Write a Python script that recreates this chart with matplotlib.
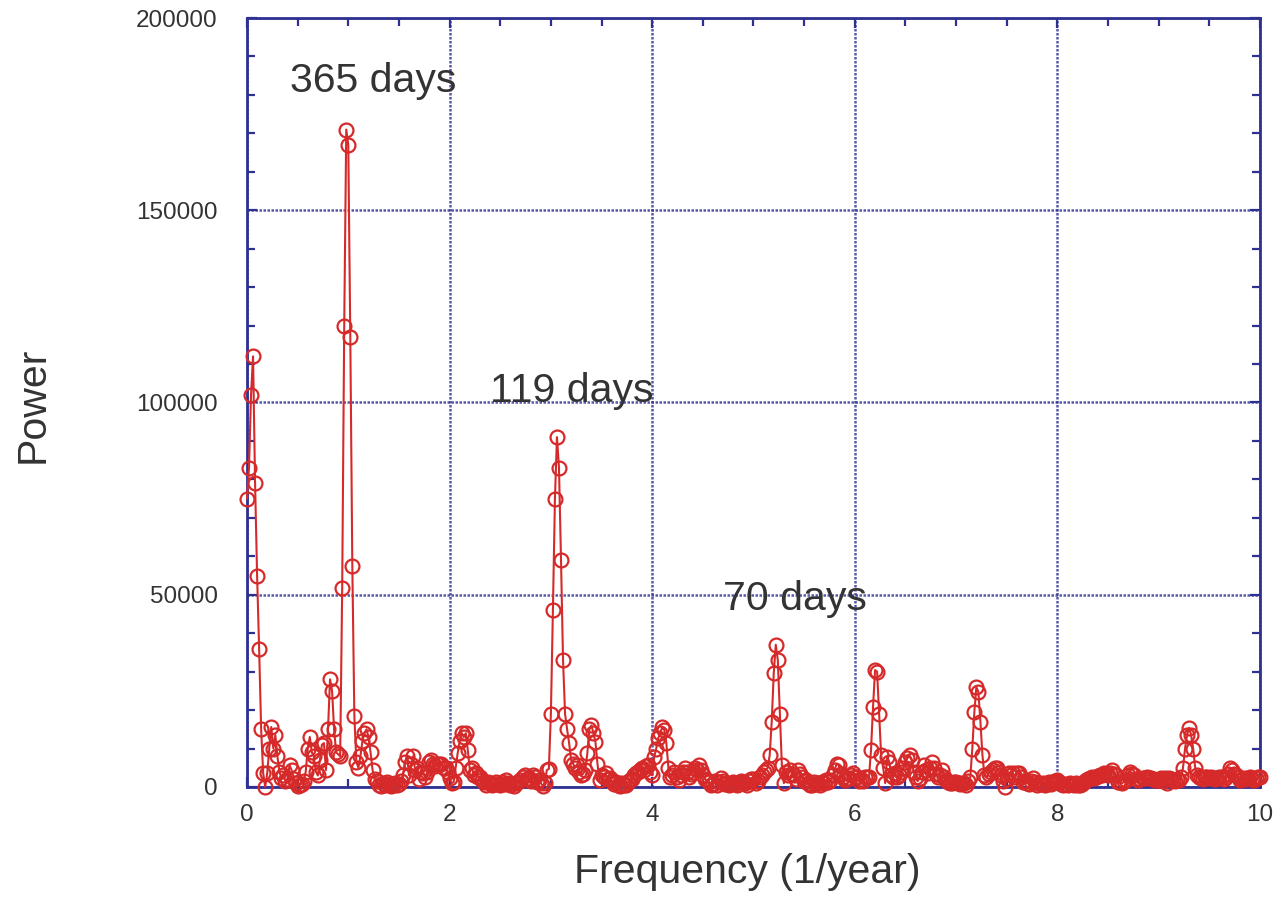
import numpy as np
import matplotlib
matplotlib.use("Agg")
import matplotlib.pyplot as plt
from matplotlib.ticker import MultipleLocator, FixedLocator, FixedFormatter

plt.rcParams["font.family"] = ["Liberation Sans", "DejaVu Sans"]

# power values (in thousands), one list per 1/year band, grid step 0.02
power_0 = [75, 83, 102, 112, 79, 55, 36, 15, 3.6, 0,
           3.6, 10, 15.6, 10, 13.5, 8, 4, 2.3, 3, 1.5,
           2, 5.7, 4.4, 2, 1, 0.3, 0.5, 0.8, 1.5, 4,
           10, 13, 9, 8, 4, 3, 7, 11, 11.4, 4.4,
           15, 28, 25, 15, 9, 8.5, 8, 51.7, 120, 171]
power_1 = [167, 117, 57.5, 18.5, 6.5, 5, 8, 12, 14, 15,
           13, 9, 4.4, 2, 1.5, 0.5, 0.3, 1, 0.5, 1.2,
           0.8, 0.3, 0.5, 1.0, 0.4, 0.8, 1.5, 3, 6.5, 8,
           3, 6, 8, 4.4, 5, 2, 4, 3.6, 2.5, 4,
           6.5, 7, 6, 5.5, 6, 6, 6, 5, 5, 4]
power_2 = [2.3, 1, 1.3, 5, 8.8, 12, 14, 13, 14, 9.6,
           4.4, 5, 3, 3.6, 2.6, 2.6, 1.8, 1.2, 0.6, 1.2,
           1, 0.5, 0.8, 1.3, 0.7, 0.5, 1.2, 0.8, 1.8, 1.0,
           0.4, 0.8, 0.3, 1.0, 1.2, 1.8, 2.5, 3, 2, 2.3,
           1.5, 3, 2.5, 1.2, 1.8, 1.0, 0.3, 1.0, 4.4, 4.7]
power_3 = [19, 46, 75, 91, 83, 59, 33, 19, 15, 11.4,
           7, 6, 5, 5.7, 4, 3, 3.5, 4.5, 8.8, 15,
           16, 14, 11.7, 6, 1.8, 3, 2.5, 3.6, 2, 2.3,
           1.5, 0.8, 1.3, 0.5, 0.3, 1, 0.6, 0.5, 1.2, 1.8,
           2, 3, 3.6, 4, 4.5, 5, 4.5, 5.5, 5.7, 4]
power_4 = [3, 7.8, 10, 12.7, 14, 15.6, 14.8, 11.4, 5, 2.5,
           3, 4, 2.5, 1.8, 3, 4, 5, 4, 2.6, 3.5,
           4, 5, 4.5, 5.7, 4.4, 3, 2, 1.8, 1.2, 0.5,
           0.8, 1.5, 0.6, 1.2, 2.3, 1.5, 0.8, 1, 0.5, 0.8,
           1.3, 1.0, 0.4, 0.8, 1.6, 1.2, 1, 0.5, 1.5, 2]
power_5 = [2, 1, 1.5, 2.6, 3, 4, 4.5, 5, 8.3, 17,
           29.6, 37, 33, 19, 5.7, 1, 4, 3, 4.4, 3.5,
           3, 2, 4.4, 3.5, 2.6, 1.5, 1.8, 1, 0.5, 0.5,
           1.3, 0.8, 1, 0.4, 1.3, 1, 1.8, 1.2, 1.8, 3,
           4.4, 6, 5.7, 3.5, 2.6, 1.8, 2, 2.3, 3, 3.6]
power_6 = [2.5, 2.5, 1.5, 2, 1.5, 2.6, 2.5, 2.6, 9.6, 20.8,
           30.4, 30, 19, 8.3, 5, 1, 7.8, 6.5, 3, 2.6,
           3.6, 2.5, 3, 4, 5, 6.5, 7.5, 8.3, 7, 4,
           2.5, 1.5, 2.3, 4, 5.7, 4.5, 3.6, 5, 6.5, 5,
           3.5, 2.6, 3, 4.4, 2.6, 1.8, 1.3, 1, 1, 1.2]
power_7 = [1.3, 1, 0.8, 1, 1, 0.5, 1.5, 2.6, 10, 19.5,
           26, 24.7, 17, 8.3, 3, 2.5, 3.5, 4, 4.5, 5,
           5, 4, 3, 1.5, 0, 2, 3.6, 3, 3.6, 2.5,
           3.6, 3.6, 2.5, 1.3, 1.5, 1, 0.8, 1.5, 2.3, 1.2,
           0.5, 1, 0.8, 1, 0.6, 0.8, 1.3, 0.8, 1.2, 1.5]
power_8 = [1.8, 1.3, 0.8, 0.5, 0.8, 0.6, 1, 0.8, 0.6, 1,
           0.5, 0.4, 0.8, 1.2, 1.8, 2, 2.3, 2.6, 2.4, 2.6,
           2.8, 3, 3.2, 3.6, 3.3, 3, 3.6, 4.4, 3.5, 3,
           1.3, 1.2, 1, 1.5, 1.8, 3, 4, 3.5, 3, 2,
           1.8, 2, 2.3, 2.3, 2.5, 2.3, 2.3, 2, 1.8, 1.8]
power_9 = [1.8, 2.3, 1.5, 2.3, 1.0, 2.3, 2, 1.8, 1.5, 2,
           1.8, 2.5, 5, 10, 13.5, 15.4, 13.5, 10, 5, 3,
           2.5, 2.3, 2, 2.6, 2.5, 2.3, 2.6, 2.3, 2.2, 2.3,
           2.6, 2.5, 2, 2.6, 3.5, 5, 4.4, 3.5, 3, 2.5,
           1.8, 2, 2.3, 2, 2.3, 2.6, 2.2, 1.8, 2.3, 2.6,
           2.6]

freq_step = 0.02
annotations = [("365 days", 0.42, 183500),
               ("119 days", 2.40, 103000),
               ("70 days", 4.70, 49000)]
y_ticks = [0, 50000, 100000, 150000, 200000]

power = np.array(power_0 + power_1 + power_2 + power_3 + power_4 +
                 power_5 + power_6 + power_7 + power_8 + power_9) * 1000
freq = np.arange(len(power)) * freq_step

navy = "#2e3192"
red = "#d62a2a"
text_col = "#333333"

fig = plt.figure(figsize=(12.77, 9.24), dpi=100)
ax = fig.add_axes([0.1934, 0.1483, 0.7933, 0.8322])

ax.plot(freq, power, color=red, lw=1.5, marker="o", ms=10, mfc="none",
        mec=red, mew=1.6, clip_on=False, zorder=3)

ax.set_xlim(0, 10)
ax.set_ylim(0, 200000)
ax.xaxis.set_major_locator(MultipleLocator(2))
ax.xaxis.set_minor_locator(MultipleLocator(0.5))
ax.yaxis.set_major_locator(FixedLocator(y_ticks))
ax.yaxis.set_major_formatter(FixedFormatter([str(v) for v in y_ticks]))
ax.yaxis.set_minor_locator(MultipleLocator(10000))

ax.grid(True, which="major", color=navy, lw=1.8, ls=(0, (1, 0.6)), alpha=0.8)
for s in ax.spines.values():
    s.set_color(navy)
    s.set_linewidth(2)

ax.tick_params(which="both", direction="in", top=True, right=True,
               color=navy, width=1.6, labelcolor=text_col, labelsize=17.5)
ax.tick_params(which="major", length=7)
ax.tick_params(which="minor", length=6)
ax.tick_params(axis="y", pad=21)
ax.tick_params(axis="x", pad=12)

for txt, x, y in annotations:
    ax.text(x, y, txt, fontsize=29.5, color=text_col, ha="left", va="center")

ax.set_xlabel("Frequency (1/year)", fontsize=29.5, color=text_col, va="center")
ax.xaxis.set_label_coords(0.494, -0.11)
ax.set_ylabel("Power", fontsize=29.5, color=text_col, va="center")
ax.yaxis.set_label_coords(-0.212, 0.497)

fig.savefig("out.png", dpi=100)
